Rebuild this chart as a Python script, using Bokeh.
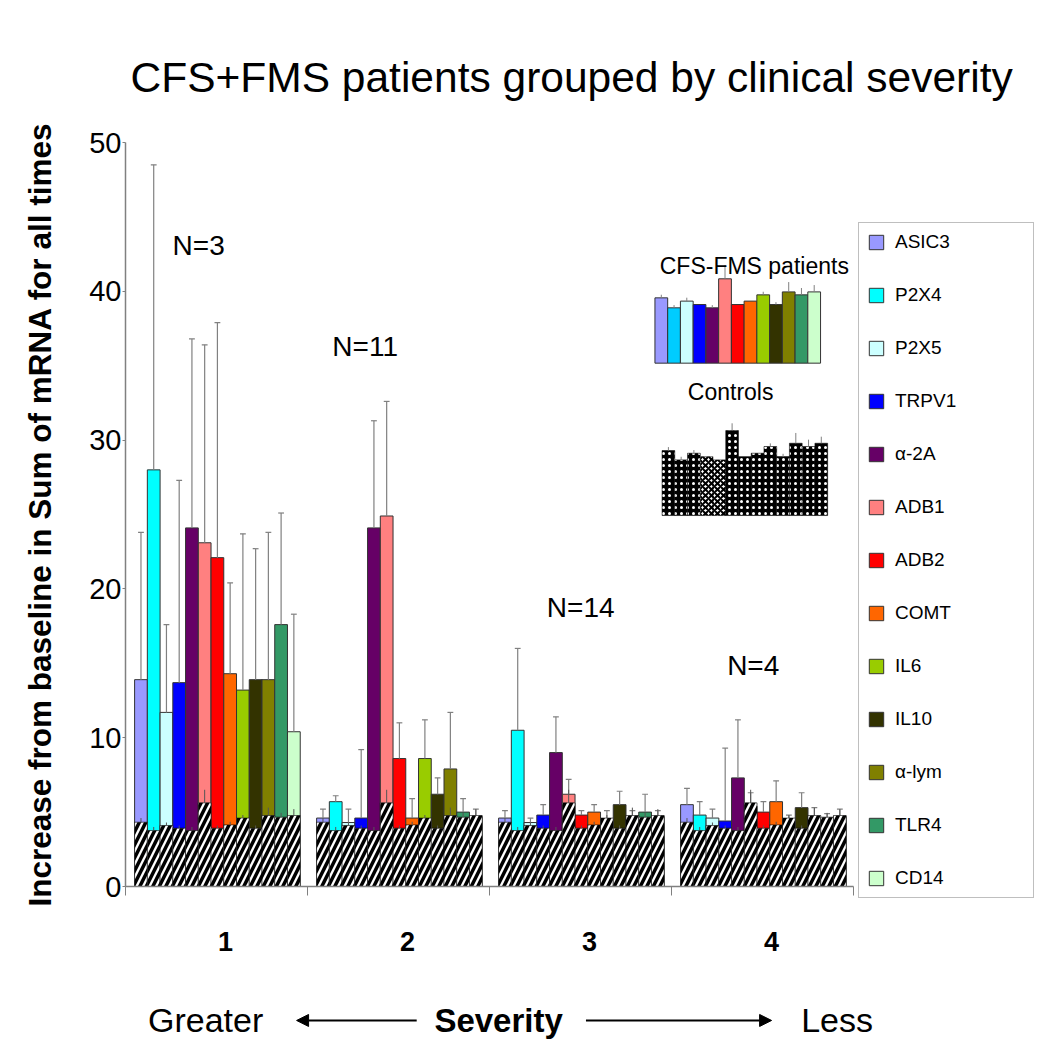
from bokeh.plotting import figure
from bokeh.layouts import column
from bokeh.models import (Range1d, FixedTicker, ColumnDataSource, Legend, LegendItem,
                          Arrow, NormalHead)
from bokeh.core.properties import value
from bokeh.embed import file_html
from bokeh.resources import INLINE

# ---------------- data ----------------
genes = ["ASIC3", "P2X4", "P2X5", "TRPV1", "α-2A", "ADB1", "ADB2", "COMT",
         "IL6", "IL10", "α-lym", "TLR4", "CD14"]
severity = ["1", "2", "3", "4"]
n_labels = ["N=3", "N=11", "N=14", "N=4"]

sev1 = [13.9, 28.0, 11.7, 13.7, 24.1, 23.1, 22.1, 14.3, 13.2, 13.9, 13.9, 17.6, 10.4]
sev1_err = [23.8, 48.5, 17.6, 27.3, 36.8, 36.4, 37.9, 20.4, 23.7, 22.7, 23.8, 25.1, 18.3]
sev2 = [4.6, 5.7, 4.3, 4.6, 24.1, 24.9, 8.6, 4.6, 8.6, 6.2, 7.9, 5.0, 4.7]
sev2_err = [5.2, 6.1, 5.2, 9.2, 31.3, 32.6, 11.0, 5.9, 11.2, 7.3, 11.7, 5.9, 5.2]
sev3 = [4.6, 10.5, 4.3, 4.8, 9.0, 6.2, 4.8, 5.0, 4.5, 5.5, 4.7, 5.0, 4.7]
sev3_err = [5.1, 16.0, 4.6, 5.5, 11.4, 7.2, 5.1, 5.5, 5.1, 6.4, 5.1, 6.2, 5.1]
sev4 = [5.5, 4.8, 4.6, 4.4, 7.3, 5.4, 5.0, 5.7, 4.5, 5.3, 4.6, 4.6, 4.7]
sev4_err = [6.6, 5.7, 5.2, 9.3, 11.2, 6.3, 5.7, 7.1, 4.8, 6.3, 5.3, 4.9, 5.2]

controls = [4.32, 3.76, 4.1, 3.92, 3.76, 5.62, 3.92, 4.14, 4.6, 3.92, 4.77, 4.66, 4.77]
controls_err = [4.6, 4.0, 4.3, 4.1, 4.0, 6.5, 4.1, 4.35, 4.8, 4.1, 5.3, 4.95, 5.2]

inset_patients = [4.39, 3.72, 4.17, 3.94, 3.72, 5.67, 3.94, 4.17, 4.59, 3.94, 4.79, 4.59, 4.79]
inset_patients_err = [4.6, 3.9, 4.4, 3.94, 3.9, 6.6, 3.94, 4.17, 4.8, 4.1, 5.45, 5.05, 5.25]
inset_controls = [4.37, 3.74, 4.19, 3.96, 3.74, 5.71, 3.96, 4.19, 4.64, 3.96, 4.86, 4.64, 4.86]
inset_controls_err = [4.6, 3.95, 4.4, 3.96, 3.74, 6.2, 3.96, 4.19, 4.85, 4.15, 5.55, 5.1, 5.3]

colors = ["#9999FF", "#00FFFF", "#CCFFFF", "#0000FF", "#660066", "#FF8080", "#FF0000",
          "#FF6600", "#99CC00", "#333300", "#808000", "#339966", "#CCFFCC"]
inset_colors = ["#9999FF", "#00CCFF", "#CCFFFF", "#0000FF", "#660066", "#FF8080", "#FF0000",
                "#FF6600", "#99CC00", "#333300", "#808000", "#339966", "#CCFFCC"]

groups = [(sev1, sev1_err), (sev2, sev2_err), (sev3, sev3_err), (sev4, sev4_err)]

# ---------------- layout constants ----------------
FONT = "Liberation Sans"
BW = 0.07          # bar width (data units)
GOFF = 0.05        # offset of first bar within a group
AXIS_GREY = "#808080"
PX_PER_X = 182     # frame pixels per x unit
LEFT, RIGHT = 125, 190
TOTAL_W = LEFT + 4 * PX_PER_X + RIGHT

xs, tops, errs, cols, ctl, ctl_err = [], [], [], [], [], []
for g, (vals, ev) in enumerate(groups):
    for i in range(len(genes)):
        xs.append(g + GOFF + BW * (i + 0.5))
        tops.append(vals[i])
        errs.append(ev[i])
        cols.append(colors[i])
        ctl.append(controls[i])
        ctl_err.append(controls_err[i])
src = ColumnDataSource(dict(x=xs, top=tops, err=errs, color=cols, ctl=ctl, ctl_err=ctl_err,
                            cx0=[x - 0.016 for x in xs], cx1=[x + 0.016 for x in xs]))

p = figure(frame_width=4 * PX_PER_X, frame_height=744, min_border_left=LEFT, min_border_top=142,
           min_border_right=RIGHT, min_border_bottom=76,
           x_range=Range1d(0, 4), y_range=Range1d(0, 50),
           output_backend="svg", toolbar_location=None)
p.outline_line_color = None
p.xgrid.grid_line_color = None
p.ygrid.grid_line_color = None
p.background_fill_color = "white"
p.border_fill_color = "white"

# patient bars
bars = p.vbar(x="x", top="top", bottom=0, width=BW, fill_color="color",
              line_color="#333333", line_width=1, source=src)
p.segment(x0="x", y0="top", x1="x", y1="err", line_color=AXIS_GREY, line_width=1.2, source=src)
p.segment(x0="cx0", y0="err", x1="cx1", y1="err", line_color=AXIS_GREY, line_width=1.2, source=src)

# control (hatched) bars on top
p.vbar(x="x", top="ctl", bottom=0, width=BW, fill_color="white", hatch_pattern="/",
       hatch_color="black", hatch_weight=3.5, hatch_scale=13, line_color="black",
       line_width=0.6, source=src)
p.segment(x0="x", y0="ctl", x1="x", y1="ctl_err", line_color="#555555", line_width=1, source=src)

# ---------------- inset charts ----------------
IP_X0, IP_BASE = 2.909, 35.17
IC_X0, IC_BASE = 2.948, 24.93
ip_x = [IP_X0 + BW * (i + 0.5) for i in range(len(genes))]
ic_x = [IC_X0 + BW * (i + 0.5) for i in range(len(genes))]
isrc_p = ColumnDataSource(dict(x=ip_x, top=[IP_BASE + v for v in inset_patients],
                               err=[IP_BASE + v for v in inset_patients_err], color=inset_colors))
p.vbar(x="x", top="top", bottom=IP_BASE, width=BW, fill_color="color", line_color="#333333",
       line_width=1, source=isrc_p)
p.segment(x0="x", y0="top", x1="x", y1="err", line_color=AXIS_GREY, line_width=1, source=isrc_p)

checker = {3, 4}
isrc_c = ColumnDataSource(dict(
    x=ic_x, top=[IC_BASE + v for v in inset_controls],
    err=[IC_BASE + v for v in inset_controls_err],
    fill=["white" if i in checker else "black" for i in range(len(genes))],
    hatch=["x" if i in checker else "." for i in range(len(genes))],
    hcol=["black" if i in checker else "white" for i in range(len(genes))]))
p.vbar(x="x", top="top", bottom=IC_BASE, width=BW, fill_color="fill", hatch_pattern="hatch",
       hatch_color="hcol", hatch_scale=6, hatch_weight=2, line_color="black", line_width=0.5,
       source=isrc_c)
p.segment(x0="x", y0="top", x1="x", y1="err", line_color=AXIS_GREY, line_width=1, source=isrc_c)

p.text(x=[3.455], y=[41.7], text=["CFS-FMS patients"], text_font=value(FONT),
       text_font_size="23px", text_align="center", text_baseline="middle", text_color="black")
p.text(x=[3.325], y=[33.2], text=["Controls"], text_font=value(FONT),
       text_font_size="23px", text_align="center", text_baseline="middle", text_color="black")

# N labels
p.text(x=[0.402, 1.317, 2.501, 3.449], y=[43.05, 36.3, 18.75, 14.85], text=n_labels,
       text_font=value(FONT), text_font_size="28px", text_align="center",
       text_baseline="middle", text_color="black")

# ---------------- axes ----------------
p.yaxis.ticker = FixedTicker(ticks=[0, 10, 20, 30, 40, 50])
p.yaxis.axis_label = "Increase from baseline in Sum of mRNA for all times"
p.yaxis.axis_label_text_font = FONT
p.yaxis.axis_label_text_font_style = "bold"
p.yaxis.axis_label_text_font_size = "31.5px"
p.yaxis.axis_label_text_color = "black"
p.yaxis.axis_label_standoff = 28
p.yaxis.major_label_text_font = FONT
p.yaxis.major_label_text_font_size = "29px"
p.yaxis.major_label_text_color = "black"
p.yaxis.major_label_standoff = 1
p.yaxis.major_tick_out = 3
p.yaxis.major_tick_in = 0
p.yaxis.minor_tick_line_color = None
p.yaxis.axis_line_color = AXIS_GREY
p.yaxis.axis_line_width = 1.5
p.yaxis.major_tick_line_color = AXIS_GREY

label_pos = [k + 0.55 for k in range(len(severity))]
p.xaxis.ticker = FixedTicker(ticks=label_pos, minor_ticks=[0, 1, 2, 3, 4])
p.xaxis.major_label_overrides = {pos: s for pos, s in zip(label_pos, severity)}
p.xaxis.major_tick_line_color = None
p.xaxis.major_label_text_font = FONT
p.xaxis.major_label_text_font_style = "bold"
p.xaxis.major_label_text_font_size = "27px"
p.xaxis.major_label_text_color = "black"
p.xaxis.major_label_standoff = 36
p.xaxis.minor_tick_out = 9
p.xaxis.minor_tick_in = 0
p.xaxis.minor_tick_line_color = AXIS_GREY
p.xaxis.axis_line_color = AXIS_GREY
p.xaxis.axis_line_width = 1.5

# ---------------- title ----------------
p.title.text = "CFS+FMS patients grouped by clinical severity"
p.title.text_font = FONT
p.title.text_font_style = "normal"
p.title.text_font_size = "42.5px"
p.title.text_color = "black"
p.title.align = "left"
p.title.offset = 5
p.title.standoff = 84

# ---------------- legend ----------------
items = [LegendItem(label=g, renderers=[bars], index=i) for i, g in enumerate(genes)]
legend = Legend(items=items, location=(5, -12), glyph_width=18, glyph_height=18,
                label_height=18, label_width=130, label_standoff=10, spacing=31,
                padding=8, margin=0, label_text_font=FONT, label_text_font_size="19px",
                label_text_color="black",
                border_line_color=AXIS_GREY, border_line_width=1.2)
p.add_layout(legend, "right")

# ---------------- severity caption (strip below the chart, same x scale) ----------------
CAP_H = 84
cap_frame_w = TOTAL_W - LEFT
cap = figure(frame_width=cap_frame_w, frame_height=CAP_H, min_border_left=LEFT,
             min_border_right=0, min_border_top=0, min_border_bottom=0,
             x_range=Range1d(0, cap_frame_w / PX_PER_X),
             y_range=Range1d(0, 1), output_backend="svg", toolbar_location=None)
cap.axis.visible = False
cap.xgrid.grid_line_color = None
cap.ygrid.grid_line_color = None
cap.outline_line_color = None
cap.background_fill_color = "white"
cap.border_fill_color = "white"
CAP_Y = 0.31
cap.text(x=[0.44, 3.91], y=[CAP_Y, CAP_Y], text=["Greater", "Less"], text_font=value(FONT),
         text_font_size="34px", text_align="center", text_baseline="middle", text_color="black")
cap.text(x=[2.05], y=[CAP_Y], text=["Severity"], text_font=value(FONT), text_font_style="bold",
         text_font_size="33px", text_align="center", text_baseline="middle", text_color="black")
cap.add_layout(Arrow(x_start=1.6, y_start=CAP_Y, x_end=0.94, y_end=CAP_Y, line_width=2,
                     end=NormalHead(size=12, fill_color="black", line_color="black")))
cap.add_layout(Arrow(x_start=2.53, y_start=CAP_Y, x_end=3.55, y_end=CAP_Y, line_width=2,
                     end=NormalHead(size=12, fill_color="black", line_color="black")))

layout = column(p, cap, spacing=0)
open("out.html", "w").write(file_html(layout, INLINE))
